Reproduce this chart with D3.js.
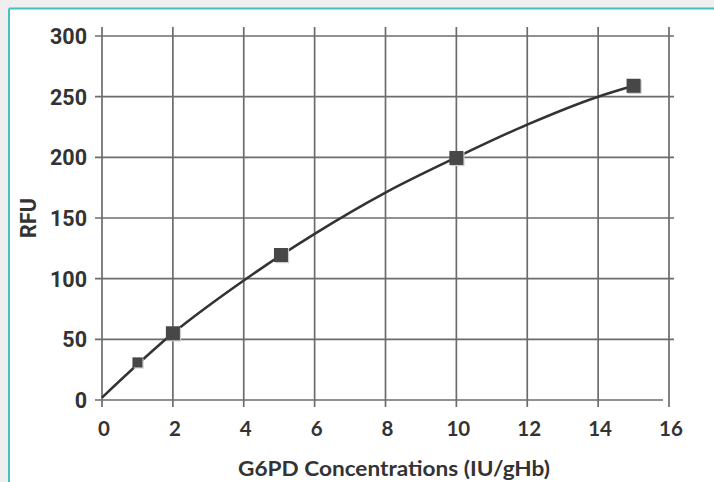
<!DOCTYPE html>
<html>
<head>
<meta charset="utf-8">
<script src="https://cdn.jsdelivr.net/npm/d3@7"></script>
<style>
  html, body { margin: 0; padding: 0; background: #efefef; }
  svg { display: block; }
</style>
</head>
<body>
<svg id="chart" width="714" height="482"></svg>
<script>
// ---- data ----
const xTicks = [0, 2, 4, 6, 8, 10, 12, 14, 16];
const yTicks = [0, 50, 100, 150, 200, 250, 300];
const pointX = [1, 2, 5.05, 10, 15];
const pointY = [31, 55, 119.5, 199.5, 259];
const pointSize = [10, 14, 14, 14, 14];
// fitted trend curve
const curveX = [0, 2, 4, 6, 8, 10, 12, 14, 15];
const curveY = [2, 55, 98.5, 137, 171, 200, 227, 250, 259];
const xTitle = "G6PD Concentrations (IU/gHb)";
const yTitle = "RFU";

const svg = d3.select("#chart");
// card
svg.append("rect").attr("x", 9).attr("y", 8.5).attr("width", 720).attr("height", 480).attr("fill", "#ffffff");
svg.append("line").attr("x1", 9).attr("x2", 714).attr("y1", 8.5).attr("y2", 8.5).attr("stroke", "#48c0c0").attr("stroke-width", 2);
svg.append("line").attr("x1", 9).attr("x2", 9).attr("y1", 8.5).attr("y2", 482).attr("stroke", "#48c0c0").attr("stroke-width", 2);

const x = d3.scaleLinear().domain([0, 16]).range([102, 669]);
const y = d3.scaleLinear().domain([0, 300]).range([400, 36]);

const gridColor = "#6c6c6c";
const g = svg.append("g");
// horizontal grid lines (extend left as tick marks)
g.selectAll("line.h").data(yTicks).join("line")
  .attr("class", "h")
  .attr("x1", 95).attr("x2", d => d === 0 ? 663 : 674)
  .attr("y1", d => y(d)).attr("y2", d => y(d))
  .attr("stroke", gridColor).attr("stroke-width", 1.7);
// vertical grid lines (extend below as tick marks)
g.selectAll("line.v").data(xTicks).join("line")
  .attr("class", "v")
  .attr("x1", d => x(d)).attr("x2", d => x(d))
  .attr("y1", 27).attr("y2", 407)
  .attr("stroke", gridColor).attr("stroke-width", 1.7);

// y tick labels
g.selectAll("text.yt").data(yTicks).join("text")
  .attr("class", "yt")
  .attr("x", 87).attr("y", d => y(d) + 8)
  .attr("text-anchor", "end")
  .attr("font-family", "Roboto, 'Liberation Sans', sans-serif")
  .attr("font-weight", 700).attr("font-size", 21.5)
  .attr("fill", "#333").text(d => d);

// x tick labels
g.selectAll("text.xt").data(xTicks).join("text")
  .attr("class", "xt")
  .attr("x", d => x(d) + 2).attr("y", 436)
  .attr("text-anchor", "middle")
  .attr("font-family", "Lato, 'Open Sans', sans-serif")
  .attr("font-weight", 700).attr("font-size", 20.5)
  .attr("fill", "#333").text(d => d);

// axis titles
svg.append("text")
  .attr("x", 394).attr("y", 476)
  .attr("text-anchor", "middle")
  .attr("font-family", "Lato, 'Open Sans', sans-serif")
  .attr("font-weight", 700).attr("font-size", 21)
  .attr("textLength", 312).attr("lengthAdjust", "spacingAndGlyphs")
  .attr("fill", "#333").text(xTitle);
svg.append("text")
  .attr("transform", "translate(36,218) rotate(-90)")
  .attr("text-anchor", "middle")
  .attr("font-family", "Roboto, 'Liberation Sans', sans-serif")
  .attr("font-weight", 700).attr("font-size", 21.5)
  .attr("fill", "#333").text(yTitle);

// trend curve
const curvePts = curveX.map((v, i) => [v, curveY[i]]);
const line = d3.line().x(d => x(d[0])).y(d => y(d[1])).curve(d3.curveMonotoneX);
svg.append("path").datum(curvePts)
  .attr("d", line).attr("fill", "none")
  .attr("stroke", "#333").attr("stroke-width", 2.6);

// markers
const pts = pointX.map((v, i) => ({x: v, y: pointY[i], s: pointSize[i]}));
svg.selectAll("rect.sh").data(pts).join("rect")
  .attr("class", "sh")
  .attr("x", d => x(d.x) - d.s / 2 + 1.2).attr("y", d => y(d.y) - d.s / 2 + 1.2)
  .attr("width", d => d.s).attr("height", d => d.s)
  .attr("fill", "#cfcfcf");
svg.selectAll("rect.pt").data(pts).join("rect")
  .attr("class", "pt")
  .attr("x", d => x(d.x) - d.s / 2).attr("y", d => y(d.y) - d.s / 2)
  .attr("width", d => d.s).attr("height", d => d.s)
  .attr("fill", "#474747");
</script>
</body>
</html>
